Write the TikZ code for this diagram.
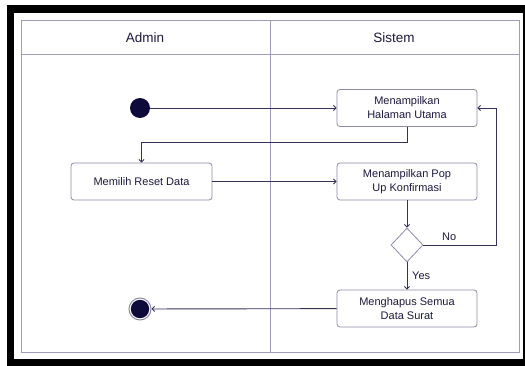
\documentclass[tikz,border=0pt]{standalone}
\usepackage{fontspec}
\setmainfont{Liberation Sans}
\usetikzlibrary{arrows.meta,shapes.geometric}
\definecolor{navy}{HTML}{0E0A3A}
\definecolor{lineC}{HTML}{35325A}
\definecolor{boxC}{HTML}{8E8BA8}
\definecolor{frameC}{HTML}{A09DB8}
\definecolor{txtC}{HTML}{1C1A3C}
\tikzset{
  act/.style={draw=boxC, line width=0.8pt, rounded corners=3pt, fill=white,
    minimum width=140pt, minimum height=37pt, align=center, inner sep=2pt,
    text=txtC, font=\fontsize{11}{14}\selectfont},
  flow/.style={draw=lineC, line width=0.9pt, -{Straight Barb[length=2.5pt,width=5pt]}},
  lab/.style={text=txtC, font=\fontsize{11}{13}\selectfont, inner sep=1pt},
  hdr/.style={text=txtC, font=\fontsize{13.5}{15}\selectfont},
  decis/.style={diamond, draw=boxC, line width=0.8pt, fill=white,
    minimum width=32pt, minimum height=34pt, inner sep=0pt},
}
\begin{document}
\begin{tikzpicture}[x=1pt,y=-1pt]
\useasboundingbox (0,0) rectangle (525,366);
% black surround
\fill[black] (7,5) rectangle (525,366);
\fill[white] (14,13) rectangle (523,359);
% swimlane frame
\draw[frameC, line width=0.9pt] (21,20) rectangle (519,352);
\draw[frameC, line width=0.9pt] (21,54) -- (519,54);
\draw[frameC, line width=0.9pt] (270,20) -- (270,352);
\node[hdr] (hA) at (145,38) {Admin};
\node[hdr] (hS) at (394,38) {Sistem};
% nodes
\node[circle, fill=navy, minimum size=20pt, inner sep=0pt] (start) at (140,108) {};
\node[act] (hal) at (407,108) {Menampilkan\\Halaman Utama};
\node[act, minimum width=141pt] (reset) at (141.5,181.5) {Memilih Reset Data};
\node[act] (pop) at (407,181.5) {Menampilkan Pop\\Up Konfirmasi};
\node[decis] (dec) at (407,245) {};
\node[act] (del) at (407,308.5) {Menghapus Semua\\Data Surat};
\node[circle, draw=boxC, line width=1pt, fill=white, minimum size=22pt, inner sep=0pt] (end) at (140,309) {};
\fill[navy] (end.center) circle (9.2pt);
% connectors
\draw[flow] (start) -- (hal);
\draw[flow] (hal.south) -- ++(0,16) -| (reset.north);
\draw[flow] (reset) -- (pop);
\draw[flow] (pop) -- (dec);
\draw[flow] (dec.east) -- ++(73,0) |- (hal.east);
\node[lab, anchor=south west] (no) at (441,242) {No};
\draw[flow] (dec) -- (del);
\node[lab, anchor=west] (yes) at (411,276) {Yes};
\draw[flow] (del) -- (end);
\end{tikzpicture}
\end{document}
